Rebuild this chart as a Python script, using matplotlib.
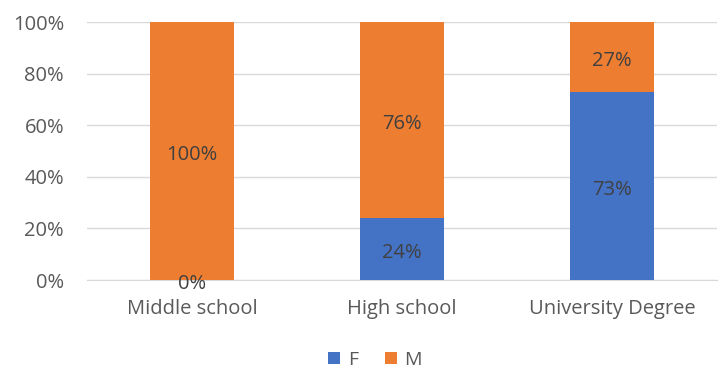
import matplotlib.pyplot as plt
import numpy as np

categories = ['Middle school', 'High school', 'University Degree']
female = [0, 24, 73]
male = [100, 76, 27]

blue = '#4472C4'
orange = '#ED7D31'
txt = '#595959'

plt.rcParams['font.family'] = ['Open Sans', 'DejaVu Sans']

fig = plt.figure(figsize=(7.22, 3.72), dpi=100)
ax = fig.add_axes([87 / 722, 1 - 280 / 372, 630 / 722, 258 / 372])

x = np.arange(len(categories))
b1 = ax.bar(x, female, width=0.4, color=blue, label='F', zorder=3)
b2 = ax.bar(x, male, width=0.4, bottom=female, color=orange, label='M', zorder=3)

# value labels sit centred in each segment
for i in range(len(categories)):
    ax.annotate(f'{female[i]}%', (x[i], female[i] / 2), xytext=(0, -3),
                textcoords='offset points', ha='center', va='center',
                fontsize=14.5, color='#404040', zorder=4)
    ax.annotate(f'{male[i]}%', (x[i], female[i] + male[i] / 2), xytext=(0, -3),
                textcoords='offset points', ha='center', va='center',
                fontsize=14.5, color='#404040', zorder=4)

ax.set_xlim(-0.5, 2.5)
ax.set_ylim(0, 100)
ax.set_yticks(range(0, 101, 20))
ax.set_yticklabels([f'{v}%' for v in range(0, 101, 20)])
ax.set_xticks(x)
ax.set_xticklabels(categories)
ax.tick_params(axis='both', length=0, labelsize=14.5, colors=txt)
ax.tick_params(axis='y', pad=16.5)
ax.tick_params(axis='x', pad=14)
ax.yaxis.grid(True, color='#D9D9D9', linewidth=1, zorder=0)
for s in ['top', 'right', 'left']:
    ax.spines[s].set_visible(False)
ax.spines['bottom'].set_color('#D9D9D9')

fig.legend(handles=[b1, b2], loc='center', bbox_to_anchor=(375 / 722, 1 - 360 / 372),
           ncol=2, frameon=False, fontsize=14, handlelength=0.6, handleheight=0.6,
           handletextpad=0.4, columnspacing=1.4, labelcolor=txt,
           borderpad=0.2)

fig.savefig('out.png', dpi=100)
